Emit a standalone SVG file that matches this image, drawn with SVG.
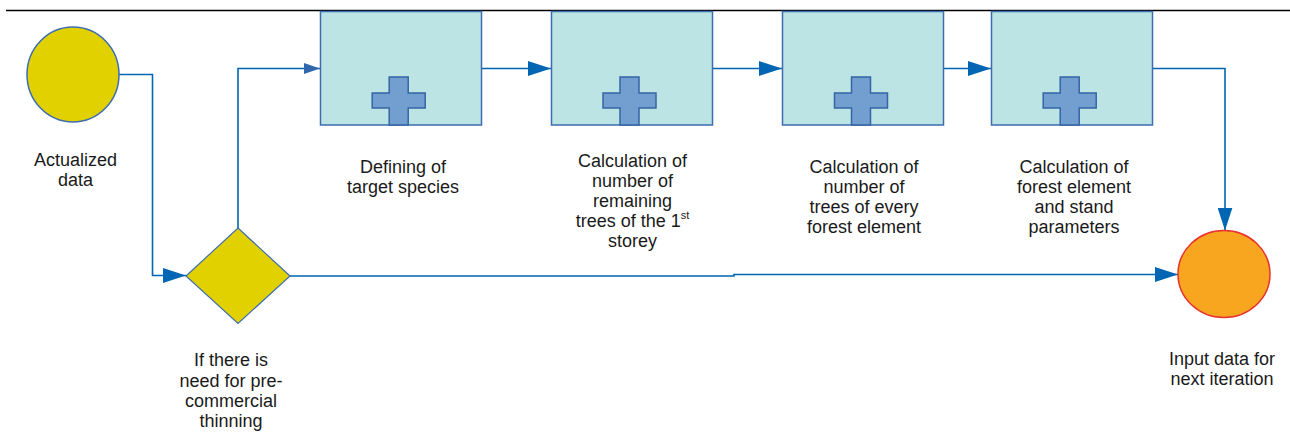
<svg xmlns="http://www.w3.org/2000/svg" width="1290" height="432" viewBox="0 0 1290 432">
<style>
  text { font-family: "Liberation Sans", Arial, sans-serif; font-size: 18px; fill: #1a1a1a; text-anchor: middle; }
  .box { fill: #bde4e4; stroke: #3d6db0; stroke-width: 1.5; }
  .cross { fill: #729fcf; stroke: #3465a4; stroke-width: 1.5; }
  .conn { fill: none; stroke: #0066b3; stroke-width: 1.6; }
</style>
<defs>
  <marker id="arr" markerUnits="userSpaceOnUse" markerWidth="23" markerHeight="15" refX="23" refY="7.5" orient="auto" viewBox="0 0 23 15">
    <path d="M0,0 L23,7.5 L0,15 Z" fill="#0066b3"/>
  </marker>
  <marker id="arrs" markerUnits="userSpaceOnUse" markerWidth="16" markerHeight="11" refX="16" refY="5.5" orient="auto" viewBox="0 0 16 11">
    <path d="M0,0 L16,5.5 L0,11 Z" fill="#3067ad"/>
  </marker>
  <path id="crs" d="M-9.5,77 H9.5 V93 H26.5 V108 H9.5 V125 H-9.5 V108 H-26.5 V93 H-9.5 Z"/>
</defs>
<line x1="6" y1="10.5" x2="1290" y2="10.5" stroke="#000" stroke-width="1.5"/>
<g id="connectors">
  <path class="conn" d="M119,74.5 H152.5 V275.5 H186" marker-end="url(#arr)"/>
  <path class="conn" d="M238,228 V68.5 H320" marker-end="url(#arrs)"/>
  <path class="conn" d="M482,68.5 H551" marker-end="url(#arr)"/>
  <path class="conn" d="M712,68.5 H782" marker-end="url(#arr)"/>
  <path class="conn" d="M943,68.5 H991" marker-end="url(#arr)"/>
  <path class="conn" d="M1153,68.5 H1225 V230.5" marker-end="url(#arr)"/>
  <path class="conn" d="M290,276 H734 V274.5 H1178" marker-end="url(#arr)"/>
</g>
<g id="start">
  <ellipse cx="73" cy="74.5" rx="46" ry="47.5" fill="#e2d100" stroke="#3d6db0" stroke-width="1.5"/>
  <text x="75.5" y="166">Actualized</text>
  <text x="75.5" y="186">data</text>
</g>
<g id="decision">
  <polygon points="238,228 290,276 238,323.5 186,276" fill="#e2d100" stroke="#3d6db0" stroke-width="1.2"/>
  <text x="231" y="366">If there is</text>
  <text x="231" y="386.5">need for pre-</text>
  <text x="231" y="407">commercial</text>
  <text x="231" y="427">thinning</text>
</g>
<g id="box1">
  <rect class="box" x="320.5" y="11.5" width="161" height="113.5"/>
  <use href="#crs" class="cross" x="398.7" y="0"/>
  <text x="403" y="173">Defining of</text>
  <text x="403" y="193">target species</text>
</g>
<g id="box2">
  <rect class="box" x="551.5" y="11.5" width="161" height="113.5"/>
  <use href="#crs" class="cross" x="629.5" y="0"/>
  <text x="632.5" y="166.5">Calculation of</text>
  <text x="632.5" y="186.5">number of</text>
  <text x="632.5" y="206.5">remaining</text>
  <text x="632.5" y="227">trees of the 1<tspan font-size="11" dy="-8">st</tspan></text>
  <text x="632.5" y="247">storey</text>
</g>
<g id="box3">
  <rect class="box" x="782.5" y="11.5" width="161" height="113.5"/>
  <use href="#crs" class="cross" x="861" y="0"/>
  <text x="864" y="173">Calculation of</text>
  <text x="864" y="193">number of</text>
  <text x="864" y="213">trees of every</text>
  <text x="864" y="233">forest element</text>
</g>
<g id="box4">
  <rect class="box" x="991.5" y="11.5" width="161" height="113.5"/>
  <use href="#crs" class="cross" x="1069.7" y="0"/>
  <text x="1074" y="173">Calculation of</text>
  <text x="1074" y="193">forest element</text>
  <text x="1074" y="213">and stand</text>
  <text x="1074" y="233">parameters</text>
</g>
<g id="end">
  <ellipse cx="1224" cy="274" rx="46" ry="43.5" fill="#f8a51f" stroke="#e8312f" stroke-width="1.5"/>
  <text x="1222" y="364.5">Input data for</text>
  <text x="1222" y="384.5">next iteration</text>
</g>
</svg>
